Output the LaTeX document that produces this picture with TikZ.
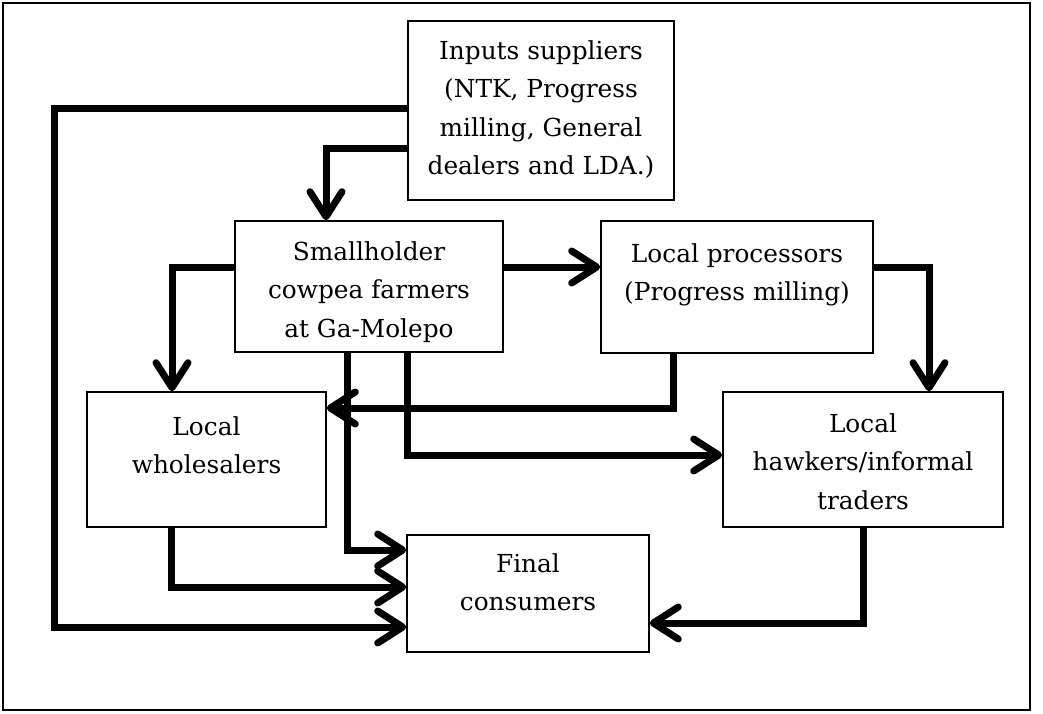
\documentclass[tikz,border=0pt]{standalone}
\usepackage{fontspec}
\setmainfont{DejaVu Serif}
\usetikzlibrary{arrows.meta}
\newcommand{\txtlines}[1]{\begin{tabular}[t]{@{}c@{}}#1\end{tabular}}
\begin{document}
\begin{tikzpicture}[x=1pt,y=-1pt,
  box/.style={draw, line width=1.6pt, inner sep=0pt},
  lbl/.style={anchor=base, inner sep=0pt, font=\fontsize{24.8}{38.5}\selectfont},
  conn/.style={line width=7pt, -{Straight Barb[length=25pt,width=32pt,round]}}]
\useasboundingbox (0,0) rectangle (1043,713);
\draw[line width=1.8pt] (3,3) rectangle (1030,710);
% boxes
\node[box, minimum width=266pt, minimum height=179pt] (inp) at (541,110.5) {};
\node[box, minimum width=268pt, minimum height=131pt] (sm) at (369,286.5) {};
\node[box, minimum width=272pt, minimum height=132pt] (pro) at (737,287) {};
\node[box, minimum width=239pt, minimum height=135pt] (who) at (206.5,459.5) {};
\node[box, minimum width=280pt, minimum height=135pt] (haw) at (863,459.5) {};
\node[box, minimum width=242pt, minimum height=117pt] (fin) at (528,593.5) {};
% texts
\node[lbl] (inpt) at (541,59) {\txtlines{Inputs suppliers\\(NTK, Progress\\milling, General\\dealers and LDA.)}};
\node[lbl] (smt) at (369,260) {\txtlines{Smallholder\\cowpea farmers\\at Ga-Molepo}};
\node[lbl] (prot) at (737,262) {\txtlines{Local processors\\(Progress milling)}};
\node[lbl] (whot) at (206.5,435) {\txtlines{Local\\wholesalers}};
\node[lbl] (hawt) at (863,432) {\txtlines{Local\\hawkers/informal\\traders}};
\node[lbl] (fint) at (528,572) {\txtlines{Final\\consumers}};
% connectors
\draw[conn] (inp.west |- 0,108) -- (54,108) |- (fin.west |- 0,627);
\draw[conn] (inp.west |- 0,148) -| (326,0 |- sm.north);
\draw[conn] (sm.west |- 0,267) -| (172,0 |- who.north);
\draw[conn] (sm.east |- 0,267) -- (pro.west |- 0,267);
\draw[conn] (pro.east |- 0,267) -| (929,0 |- haw.north);
\draw[conn] (673,0 |- pro.south) |- (who.east |- 0,408);
\draw[conn] (347,0 |- sm.south) |- (fin.west |- 0,550);
\draw[conn] (407,0 |- sm.south) |- (haw.west |- 0,455);
\draw[conn] (171,0 |- who.south) |- (fin.west |- 0,587);
\draw[conn] (863,0 |- haw.south) |- (fin.east |- 0,623);
\end{tikzpicture}
\end{document}
